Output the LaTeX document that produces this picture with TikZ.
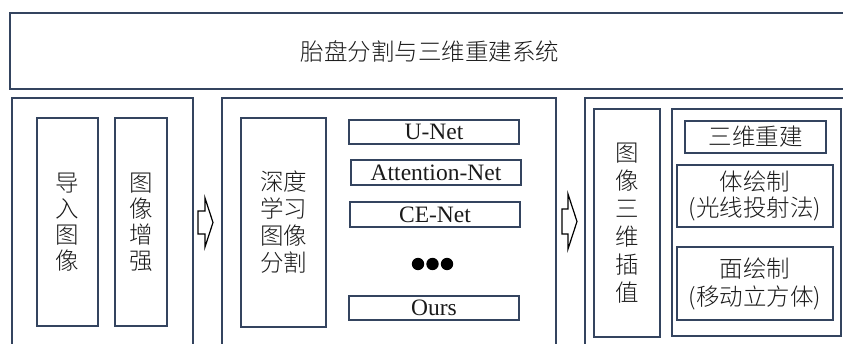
\documentclass[tikz,border=0pt]{standalone}
\usepackage{fontspec}
\setmainfont{Liberation Serif}
\newfontfamily\cjk{Noto Sans CJK SC Light}
\definecolor{bordc}{HTML}{34445F}
\definecolor{txtc}{HTML}{1A1A1A}
\begin{document}
\begin{tikzpicture}[x=1pt,y=-1pt,
  boxst/.style={draw=bordc,line width=1.3pt,inner sep=0pt,text=txtc,align=center},
  cjkf/.style={font=\cjk\fontsize{23.5}{26}\selectfont},
  latf/.style={font=\fontsize{23.5}{26}\selectfont},
  arrowst/.style={draw=black,line width=1.2pt,fill=white,line join=miter}]
\useasboundingbox (0,0) rectangle (843,344);
\clip (0,0) rectangle (843,344);
% title bar
\node[boxst,minimum width=840pt,minimum height=76pt,font=\cjk\fontsize{23.5}{26}\selectfont] (title) at (430,51) {胎盘分割与三维重建系统};
% panels
\node[boxst,minimum width=181pt,minimum height=262pt] (pleft) at (102.5,229) {};
\node[boxst,minimum width=334pt,minimum height=262pt] (pmid) at (389,229) {};
\node[boxst,minimum width=275pt,minimum height=262pt] (pright) at (722.5,229) {};
% left panel
\node[boxst,cjkf,minimum width=61pt,minimum height=208pt] (imp) at (67.5,222) {导\\入\\图\\像};
\node[boxst,cjkf,minimum width=52pt,minimum height=208pt] (enh) at (141,222) {图\\像\\增\\强};
% middle panel
\node[boxst,minimum width=85pt,minimum height=209pt,font=\cjk\fontsize{23.5}{27}\selectfont] (deep) at (283.5,222.5) {深度\\学习\\图像\\分割};
\node[boxst,latf,minimum width=170pt,minimum height=24pt] (unet) at (434,132) {U-Net};
\node[boxst,latf,minimum width=170pt,minimum height=25pt] (att) at (436,172.5) {Attention-Net};
\node[boxst,latf,minimum width=170pt,minimum height=25pt] (ce) at (435,214.5) {CE-Net};
\fill[black] (418,264) circle (6.2) (432.5,264) circle (6.2) (447,264) circle (6.2);
\node[boxst,latf,minimum width=170pt,minimum height=24pt] (ours) at (434,308) {Ours};
% right panel
\node[boxst,minimum width=66pt,minimum height=228pt,font=\cjk\fontsize{23.5}{28}\selectfont] (interp) at (627,223) {图\\像\\三\\维\\插\\值};
\node[boxst,minimum width=169pt,minimum height=227pt] (recon) at (756.5,222.5) {};
\node[boxst,cjkf,minimum width=141pt,minimum height=32pt] (sanwei) at (755.5,137) {三维重建};
\node[boxst,minimum width=156pt,minimum height=62pt,font=\cjk\fontsize{23.5}{26}\selectfont] (vol) at (755,196) {体绘制\\(光线投射法)};
\node[boxst,minimum width=156pt,minimum height=73pt,font=\cjk\fontsize{23.5}{28}\selectfont] (surf) at (755,283.5) {面绘制\\(移动立方体)};
% block arrows
\draw[arrowst] (198,211) -- (205,211) -- (205,198) -- (213,222.5) -- (205,247) -- (205,234) -- (198,234) -- cycle;
\draw[arrowst] (562,209) -- (568,209) -- (568,194) -- (577,221.5) -- (568,249) -- (568,234) -- (562,234) -- cycle;
\end{tikzpicture}
\end{document}
